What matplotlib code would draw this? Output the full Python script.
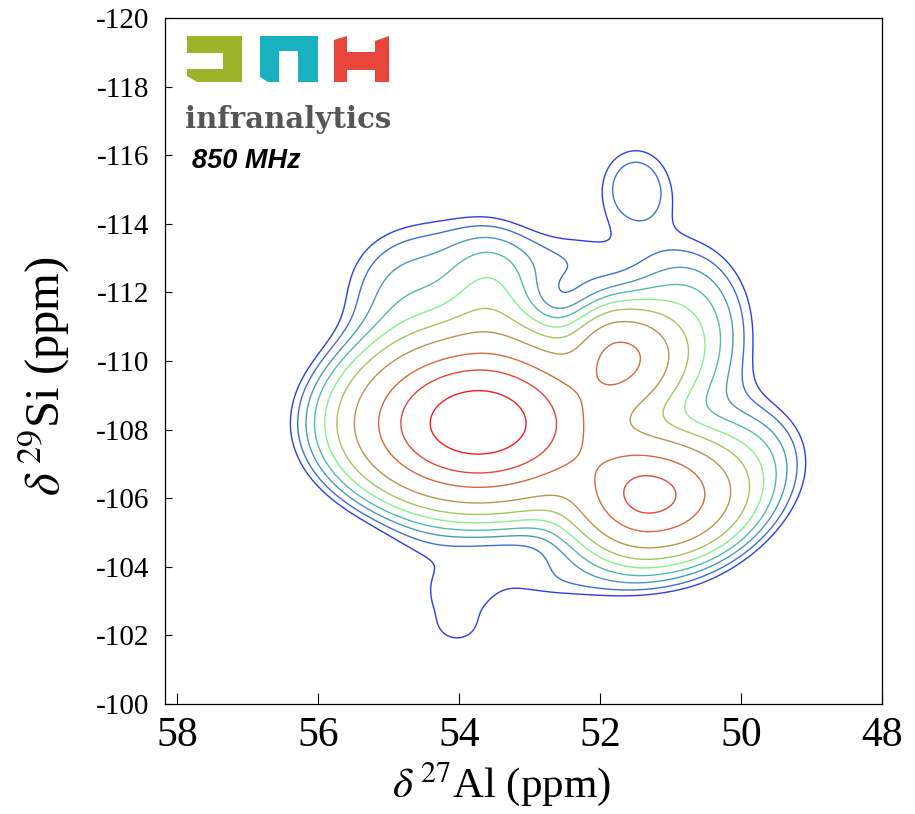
import numpy as np
import matplotlib
matplotlib.use("Agg")
import matplotlib.pyplot as plt
from matplotlib.patches import Polygon

# ---- spectral components read from the 2D map (27Al ppm, 29Si ppm, widths, heights)
#   main, top bump, upper-left shoulder, top, top-right, peak 2, peak 3,
#   right shoulder, lower-right, top lobe, bottom, lower-left, tail, tail tip
peak_al     = [53.73, 53.55, 54.75, 54.2, 52.45, 51.30, 51.72, 50.8, 49.8, 51.50, 52.5, 54.6, 54.05, 54.0]
peak_si     = [-108.18, -111.7, -111.9, -113.5, -112.9, -106.07, -110.12, -110.9, -107.3,
               -115.1, -103.6, -104.2, -102.8, -102.2]
width_al_hi = [1.00, 0.42, 0.70, 1.00, 0.70, 0.62, 0.40, 0.65, 0.60, 0.45, 0.90, 0.60, 0.50, 0.30]
width_al_lo = [1.00, 0.42, 0.70, 1.00, 0.55, 0.75, 0.50, 0.65, 0.60, 0.45, 1.40, 0.60, 0.50, 0.30]
width_si_up = [1.38, 1.25, 1.10, 1.00, 0.80, 1.02, 0.85, 1.75, 1.20, 1.05, 0.85, 0.80, 0.80, 0.40]
width_si_dn = [1.32, 1.25, 1.10, 1.00, 0.85, 1.02, 0.95, 1.70, 1.20, 0.95, 0.60, 0.80, 1.30, 0.40]
height      = [1.00, 0.068, 0.045, 0.025, 0.028, 0.61, 0.35, 0.085, 0.05, 0.046, 0.032, 0.014, 0.028, 0.008]

contour_levels = [0.029, 0.038, 0.051, 0.068, 0.094, 0.135, 0.215, 0.37, 0.55, 0.795]
contour_colors = ['#2a40e2', '#3d6ed8', '#4a98ba', '#52bca2', '#86f08a',
                  '#a4c45e', '#b8954e', '#d26a3c', '#e4463a', '#f61e1c']

x_ticks = [58, 56, 54, 52, 50, 48]
y_ticks = [-120, -118, -116, -114, -112, -110, -108, -106, -104, -102, -100]

W, H = 915, 814
plt.rcParams['font.family'] = ['Liberation Serif', 'DejaVu Serif']
plt.rcParams['mathtext.fontset'] = 'stix'
plt.rcParams['axes.unicode_minus'] = False

fig = plt.figure(figsize=(W / 100, H / 100), dpi=100)
ax = fig.add_axes([165 / W, 1 - 704 / H, (882 - 165) / W, (704 - 18) / H])

al = np.linspace(48.0, 58.3, 560)
si = np.linspace(-120.5, -99.5, 560)
AL, SI = np.meshgrid(al, si)
Z = np.zeros_like(AL)
for a0, s0, sh, sl, su, sd, h in zip(peak_al, peak_si, width_al_hi, width_al_lo,
                                      width_si_up, width_si_dn, height):
    sa = np.where(AL >= a0, sh, sl)
    ss = np.where(SI <= s0, su, sd)
    Z += h * np.exp(-0.5 * ((AL - a0) / sa) ** 2 - 0.5 * ((SI - s0) / ss) ** 2)

ax.contour(AL, SI, Z, levels=contour_levels, colors=contour_colors, linewidths=1.0)

ax.set_xlim(58.17, 48.0)
ax.set_ylim(-100, -120)
ax.set_xticks(x_ticks)
ax.set_xticklabels([str(v) for v in x_ticks])
ax.set_yticks(y_ticks)
ax.set_yticklabels([str(v) for v in y_ticks])
ax.tick_params(axis='x', direction='in', length=8, width=0.8, labelsize=30, pad=9)
ax.tick_params(axis='y', direction='in', length=5, width=0.8, labelsize=21, pad=11)
for s in ax.spines.values():
    s.set_linewidth(0.9)

ax.set_xlabel(r'$\delta^{\,27}$Al (ppm)', fontsize=31)
ax.xaxis.set_label_coords((502 - 165) / (882 - 165), -(760 - 704) / (704 - 18), transform=ax.transAxes)
ax.set_ylabel(r'$\delta^{\,29}$Si (ppm)', fontsize=35)
ax.yaxis.set_label_coords(-(165 - 72) / (882 - 165), (704 - 376) / (704 - 18), transform=ax.transAxes)

# ---- logo (decoration, figure pixel coordinates)
def px(pts):
    return [(x / W, 1 - y / H) for x, y in pts]

green = [(187, 36), (242, 36), (242, 82), (197, 82), (187, 76), (187, 69),
         (223, 69), (223, 53), (187, 53)]
teal = [(260, 36), (318, 36), (318, 82), (298, 82), (298, 51), (279, 51),
        (279, 82), (268, 82), (260, 77)]
red1 = [(334, 40), (347, 36), (347, 82), (334, 82)]
red2 = [(347, 52), (377, 52), (377, 70), (347, 70)]
red3 = [(375, 41), (389, 36), (389, 82), (375, 82)]
for pts, col in [(green, '#9bb52b'), (teal, '#19b1bf'), (red1, '#e8463b'),
                 (red2, '#e8463b'), (red3, '#e8463b')]:
    fig.patches.append(Polygon(px(pts), closed=True, transform=fig.transFigure,
                               facecolor=col, edgecolor='none'))

fig.text(185 / W, 1 - 128 / H, 'infranalytics', fontsize=21, fontweight='heavy',
         family='DejaVu Serif', color='#555658', ha='left', va='baseline')
fig.text(192 / W, 1 - 168 / H, '850 MHz', fontsize=19.5, fontweight='bold',
         fontstyle='italic', family='Liberation Sans', color='black',
         ha='left', va='baseline')

fig.savefig('out.png', dpi=100)
